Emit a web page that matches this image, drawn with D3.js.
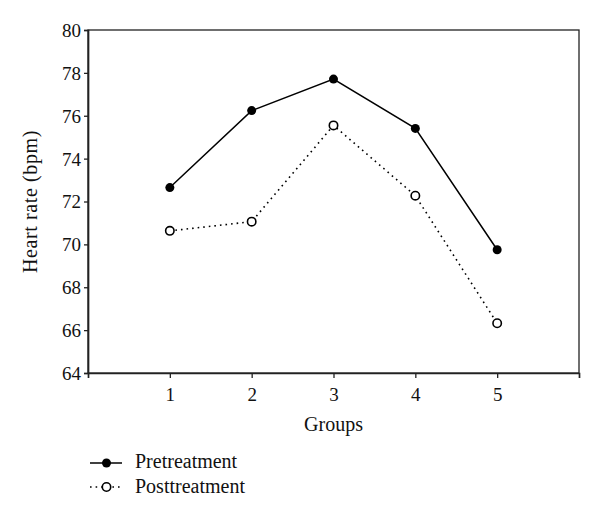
<!DOCTYPE html>
<html>
<head>
<meta charset="utf-8">
<script src="https://cdn.jsdelivr.net/npm/d3@7"></script>
<style>
body{margin:0;background:#fff;}
text{font-family:"Liberation Serif","DejaVu Serif",serif;fill:#111;}
</style>
</head>
<body>
<svg id="c" width="600" height="520"></svg>
<script>
const groups = [1, 2, 3, 4, 5];
const pretreatment = [72.65, 76.24, 77.71, 75.41, 69.75];
const posttreatment = [70.63, 71.06, 75.55, 72.27, 66.32];
const yTicks = [64, 66, 68, 70, 72, 74, 76, 78, 80];
const xTicks = [1, 2, 3, 4, 5];

const FS = "19px", FL = "20px";
const svg = d3.select("#c");
const m = {l: 88, r: 579, t: 30, b: 373};
const x = d3.scaleLinear().domain([0, 6]).range([m.l, m.r]);
const y = d3.scaleLinear().domain([64, 80]).range([m.b, m.t]);

// frame
svg.append("rect").attr("x", m.l).attr("y", m.t).attr("width", m.r - m.l).attr("height", m.b - m.t)
  .attr("fill", "none").attr("stroke", "#222").attr("stroke-width", 1.3);

const ya = svg.append("g").attr("transform", `translate(${m.l},0)`)
  .call(d3.axisLeft(y).tickValues(yTicks).tickSize(4).tickPadding(3).tickFormat(d3.format("d")));
const xa = svg.append("g").attr("transform", `translate(0,${m.b})`)
  .call(d3.axisBottom(x).tickValues(xTicks).tickSize(5).tickPadding(10).tickFormat(d3.format("d")));
[ya, xa].forEach(a => {
  a.select(".domain").attr("stroke", "#222").attr("stroke-width", 1.7);
  a.selectAll(".tick line").attr("stroke", "#222").attr("stroke-width", 1.3);
  a.selectAll(".tick text").style("font-size", FS).style("font-family", "Liberation Serif, serif").attr("fill", "#111");
});
ya.selectAll(".tick text").attr("dy", "0.34em");

svg.append("text").attr("transform", `translate(37,${(m.t + m.b) / 2}) rotate(-90)`)
  .attr("text-anchor", "middle").style("font-size", FL).style("letter-spacing", "0.6px").text("Heart rate (bpm)");
svg.append("text").attr("x", (m.l + m.r) / 2).attr("y", 431)
  .attr("text-anchor", "middle").style("font-size", FL).text("Groups");

const line = d3.line().x((d, i) => x(groups[i])).y(d => y(d));

svg.append("path").datum(pretreatment).attr("d", line)
  .attr("fill", "none").attr("stroke", "#000").attr("stroke-width", 1.5);
svg.append("path").datum(posttreatment).attr("d", line)
  .attr("fill", "none").attr("stroke", "#000").attr("stroke-width", 1.6)
  .attr("stroke-dasharray", "1.6,4").attr("stroke-linecap", "butt");

svg.selectAll("circle.pre").data(pretreatment).join("circle").attr("class", "pre")
  .attr("cx", (d, i) => x(groups[i])).attr("cy", d => y(d)).attr("r", 4.5).attr("fill", "#000");
svg.selectAll("circle.post").data(posttreatment).join("circle").attr("class", "post")
  .attr("cx", (d, i) => x(groups[i])).attr("cy", d => y(d)).attr("r", 4.2)
  .attr("fill", "#fff").attr("stroke", "#000").attr("stroke-width", 1.6);

// legend
const lg = svg.append("g");
lg.append("line").attr("x1", 90).attr("x2", 122).attr("y1", 463).attr("y2", 463)
  .attr("stroke", "#000").attr("stroke-width", 1.5);
lg.append("circle").attr("cx", 106.5).attr("cy", 463).attr("r", 4.5).attr("fill", "#000");
lg.append("text").attr("x", 135).attr("y", 468).style("font-size", FL).text("Pretreatment");
lg.append("line").attr("x1", 90).attr("x2", 122).attr("y1", 487).attr("y2", 487)
  .attr("stroke", "#000").attr("stroke-width", 1.6).attr("stroke-dasharray", "1.6,4");
lg.append("circle").attr("cx", 106.5).attr("cy", 487).attr("r", 4.2)
  .attr("fill", "#fff").attr("stroke", "#000").attr("stroke-width", 1.6);
lg.append("text").attr("x", 135).attr("y", 493).style("font-size", FL).text("Posttreatment");
</script>
</body>
</html>
